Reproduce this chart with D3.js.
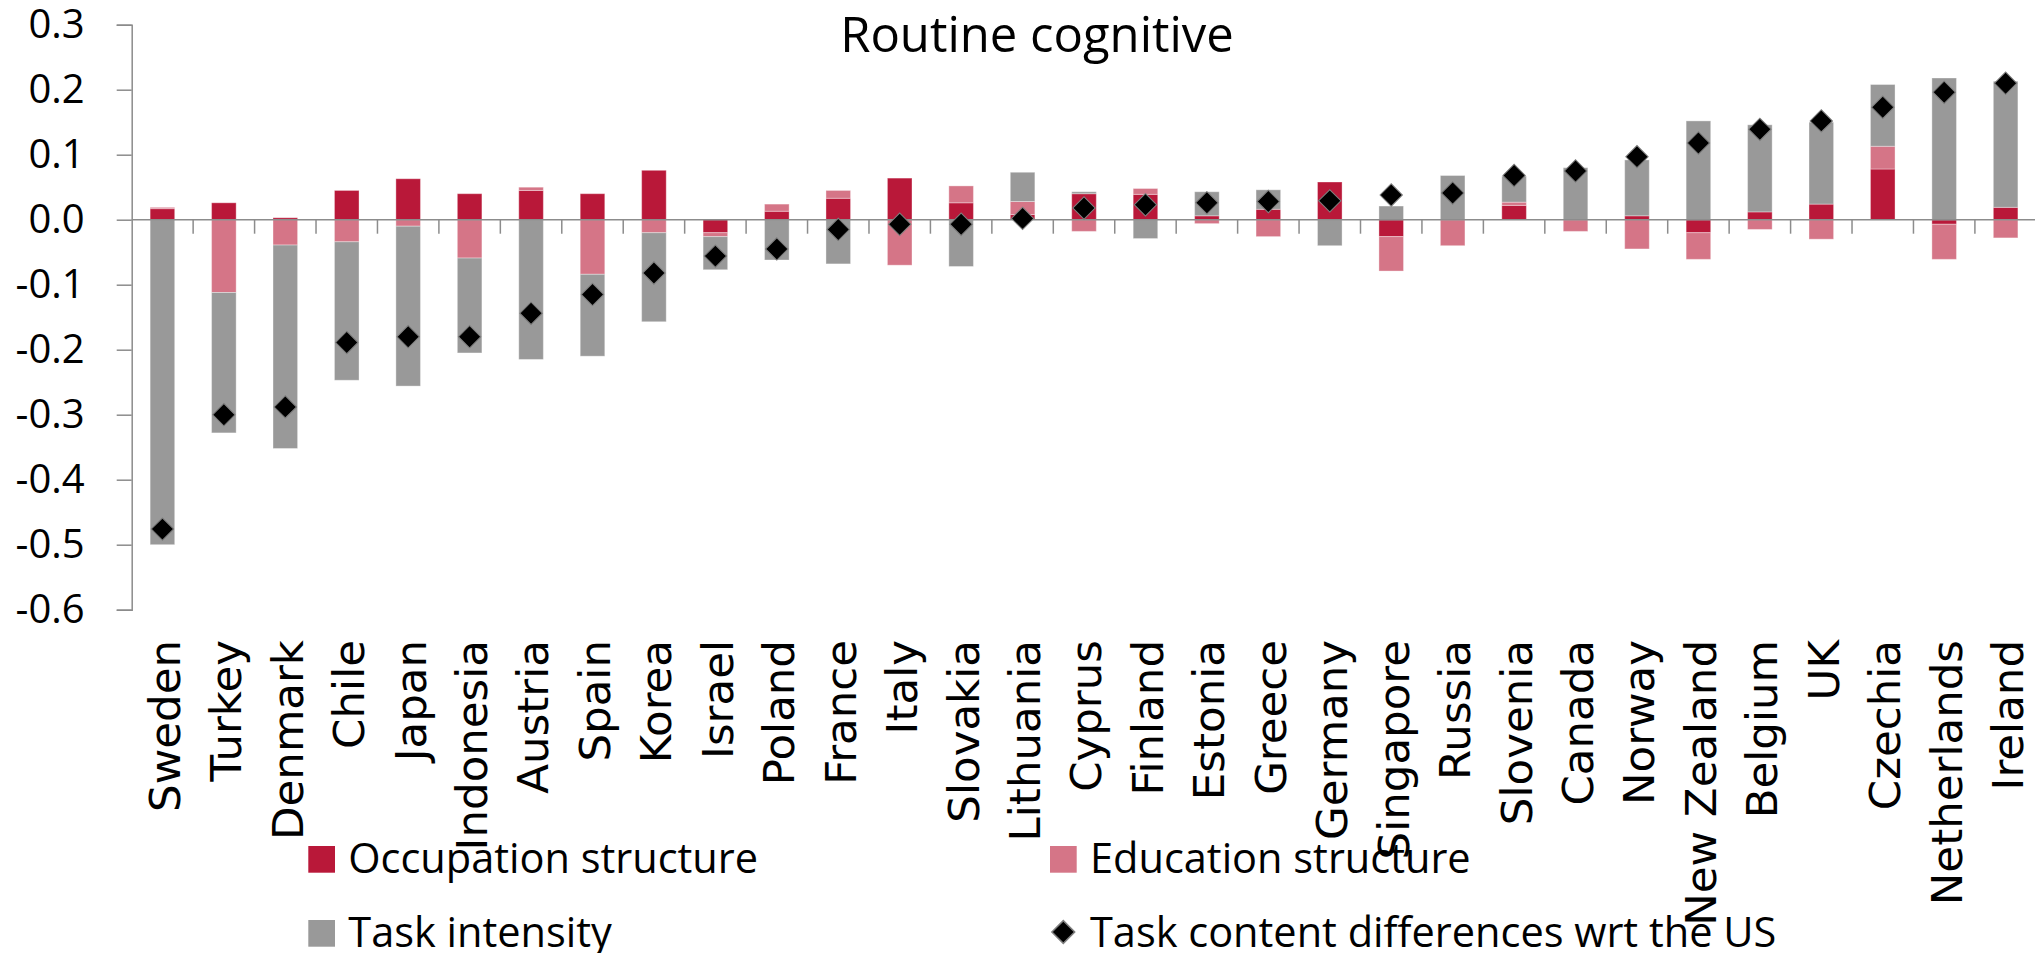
<!DOCTYPE html>
<html>
<head>
<meta charset="utf-8">
<script src="https://cdn.jsdelivr.net/npm/d3@7"></script>
<style>
    body { margin: 0; background: #fff; }
    svg { display: block; }
    text { fill: #000; }
</style>
</head>
<body>
<svg id="chart" width="2035" height="953"></svg>
<script>
const countries = ['Sweden', 'Turkey', 'Denmark', 'Chile', 'Japan', 'Indonesia', 'Austria', 'Spain', 'Korea', 'Israel',
    'Poland', 'France', 'Italy', 'Slovakia', 'Lithuania', 'Cyprus', 'Finland', 'Estonia', 'Greece', 'Germany',
    'Singapore', 'Russia', 'Slovenia', 'Canada', 'Norway', 'New Zealand', 'Belgium', 'UK', 'Czechia', 'Netherlands', 'Ireland']

const occupation = [0.017, 0.026, 0.003, 0.045, 0.063, 0.040, 0.045, 0.040, 0.076, -0.020,
    0.013, 0.033, 0.064, 0.026, 0.008, 0.040, 0.039, 0.006, 0.016, 0.058,
    -0.026, 0.000, 0.022, 0.000, 0.006, -0.020, 0.012, 0.024, 0.078, -0.007, 0.019]

const education = [0.002, -0.112, -0.039, -0.034, -0.010, -0.059, 0.005, -0.084, -0.020, -0.006,
    0.011, 0.012, -0.070, 0.026, 0.020, -0.018, 0.009, -0.006, -0.026, 0.000,
    -0.053, -0.040, 0.005, -0.018, -0.045, -0.041, -0.015, -0.030, 0.035, -0.054, -0.028]

const taskIntensity = [-0.500, -0.216, -0.313, -0.213, -0.246, -0.146, -0.215, -0.126, -0.137, -0.051,
    -0.062, -0.068, 0.000, -0.072, 0.045, 0.003, -0.029, 0.037, 0.030, -0.040,
    0.021, 0.068, 0.040, 0.080, 0.086, 0.152, 0.134, 0.126, 0.095, 0.218, 0.194]

const totalDiff = [-0.476, -0.300, -0.288, -0.189, -0.180, -0.180, -0.144, -0.115, -0.082, -0.056,
    -0.045, -0.015, -0.007, -0.007, 0.002, 0.018, 0.023, 0.026, 0.028, 0.029,
    0.038, 0.041, 0.068, 0.075, 0.097, 0.118, 0.139, 0.152, 0.173, 0.196, 0.210]

const yTicks = [-0.6, -0.5, -0.4, -0.3, -0.2, -0.1, 0.0, 0.1, 0.2, 0.3]

const title = 'Routine cognitive'
const seriesKeys = ['occ', 'edu', 'task']
const seriesNames = {occ: 'Occupation structure', edu: 'Education structure', task: 'Task intensity', diff: 'Task content differences wrt the US'}
const colors = {occ: '#b91839', edu: '#d57587', task: '#999999'}

const rows = countries.map((c, i) => ({country: c, occ: occupation[i], edu: education[i], task: taskIntensity[i], diff: totalDiff[i]}))

const svg = d3.select('#chart')

const x = d3.scaleBand()
    .domain(countries)
    .range([131.7, 131.7 + 31 * 61.44])
    .paddingInner(0.6)
    .paddingOuter(0.3)

const y = d3.scaleLinear()
    .domain([-0.6, 0.3])
    .range([609.7, 24.7])

const axisColor = '#8c8c8c'
const fmt = v => d3.format('.1f')(v).replace('\u2212', '-')

// stacked bars, positives up and negatives down like excel
const stacked = d3.stack()
    .keys(seriesKeys)
    .offset(d3.stackOffsetDiverging)(rows)

svg.append('g')
    .selectAll('g')
    .data(stacked)
    .enter()
        .append('g')
        .attr('fill', d => colors[d.key])
        .selectAll('rect')
        .data(d => d)
        .enter()
            .append('rect')
            .attr('x', d => x(d.data.country))
            .attr('width', x.bandwidth())
            .attr('y', d => y(Math.max(d[0], d[1])))
            .attr('height', d => Math.abs(y(d[0]) - y(d[1])))
            .attr('stroke', '#fff')
            .attr('stroke-opacity', 0.35)
            .attr('stroke-width', 1)

// y axis
const yAxis = svg.append('g')
    .attr('transform', 'translate(131.7,0)')
    .call(d3.axisLeft(y).tickValues(yTicks).tickFormat(fmt).tickSize(15).tickPadding(32))

yAxis.select('.domain').attr('stroke', axisColor).attr('stroke-width', 1.5)
yAxis.selectAll('.tick line').attr('stroke', axisColor).attr('stroke-width', 1.5)
yAxis.selectAll('.tick text')
    .style('font-family', '"Open Sans", sans-serif')
    .style('font-size', '40px')
    .attr('fill', '#000')

// zero line with category ticks
const xAxisG = svg.append('g')
xAxisG.append('line')
    .attr('x1', 131.7).attr('x2', 2035)
    .attr('y1', y(0)).attr('y2', y(0))
    .attr('stroke', axisColor).attr('stroke-width', 1.5)

xAxisG.selectAll('line.cat-tick')
    .data(countries.slice(1))
    .enter()
        .append('line')
        .classed('cat-tick', true)
        .attr('x1', d => x(d) + x.bandwidth() / 2 - x.step() / 2)
        .attr('x2', d => x(d) + x.bandwidth() / 2 - x.step() / 2)
        .attr('y1', y(0))
        .attr('y2', y(0) + 14)
        .attr('stroke', axisColor).attr('stroke-width', 1.5)

// markers
const diamond = d3.symbol().type(d3.symbolSquare).size(250)
svg.append('g')
    .selectAll('path')
    .data(rows)
    .enter()
        .append('path')
        .attr('d', diamond)
        .attr('transform', d => `translate(${x(d.country) + x.bandwidth() / 2},${y(d.diff)}) rotate(45)`)
        .attr('fill', '#000')
        .attr('stroke', '#7f7f7f')
        .attr('stroke-width', 1)

// category labels
svg.append('g')
    .selectAll('text')
    .data(countries)
    .enter()
        .append('text')
        .attr('transform', d => `translate(${x(d) + x.bandwidth() / 2},640) rotate(-90)`)
        .attr('dy', '0.4em')
        .attr('text-anchor', 'end')
        .style('font-family', '"DejaVu Sans", Verdana, sans-serif')
        .style('font-size', '43.5px')
        .text(d => d)

// title
svg.append('text')
    .attr('x', 1037)
    .attr('y', 52)
    .attr('text-anchor', 'middle')
    .style('font-family', '"Open Sans", sans-serif')
    .style('font-size', '49px')
    .text(title)

// legend
const legendItems = [
    {key: 'occ', x: 308.3, y: 846},
    {key: 'edu', x: 1050, y: 846},
    {key: 'task', x: 308.3, y: 920},
    {key: 'diff', x: 1050, y: 920}
]

const legend = svg.append('g')
    .selectAll('g')
    .data(legendItems)
    .enter()
        .append('g')
        .attr('transform', d => `translate(${d.x},${d.y})`)

legend.filter(d => d.key !== 'diff')
    .append('rect')
    .attr('width', 26.7)
    .attr('height', 26.7)
    .attr('fill', d => colors[d.key])

legend.filter(d => d.key === 'diff')
    .append('path')
    .attr('d', d3.symbol().type(d3.symbolSquare).size(260))
    .attr('transform', 'translate(13.3,12) rotate(45)')
    .attr('fill', '#000')
    .attr('stroke', '#7f7f7f')
    .attr('stroke-width', 1.5)

legend.append('text')
    .attr('x', 40)
    .attr('y', 26.7)
    .style('font-family', '"Open Sans", sans-serif')
    .style('font-size', '41.5px')
    .text(d => seriesNames[d.key])
</script>
</body>
</html>
